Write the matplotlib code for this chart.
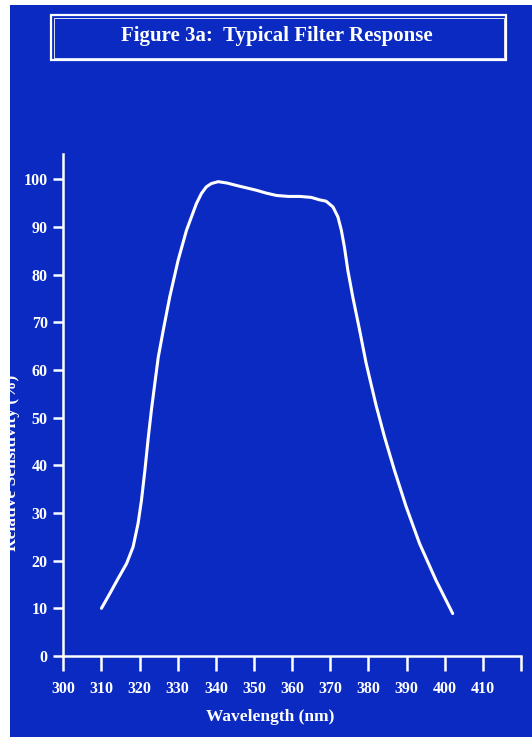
import matplotlib
matplotlib.use("Agg")
import matplotlib.pyplot as plt
from matplotlib.patches import Rectangle

# Filter response curve: wavelength (nm) and relative sensitivity (%)
wavelength = [310.0, 312.2, 314.4, 316.6, 318.3, 319.6, 320.5, 321.4, 322.3,
              323.1, 324.0, 324.9, 326.2, 327.9, 330.1, 332.3, 333.6, 334.9,
              336.2, 337.5, 338.8, 340.6, 343.0, 345.4, 348.0, 350.6, 353.2,
              355.9, 359.0, 362.0, 365.0, 367.1, 368.9, 370.7, 372.0, 372.9,
              373.7, 374.6, 375.9, 376.8, 377.7, 379.4, 382.0, 384.2, 386.8,
              389.9, 393.4, 397.7, 402.1]
sensitivity = [10.0, 13.1, 16.3, 19.4, 22.9, 27.8, 32.7, 39.0, 46.0,
               51.6, 57.2, 62.7, 68.3, 75.3, 83.0, 89.3, 92.1, 94.9,
               97.0, 98.4, 99.1, 99.5, 99.2, 98.7, 98.2, 97.7, 97.1,
               96.6, 96.4, 96.4, 96.2, 95.7, 95.4, 94.2, 92.1, 89.3,
               85.8, 80.9, 75.3, 71.8, 68.3, 61.4, 52.6, 46.0, 39.0,
               31.3, 23.6, 15.9, 8.9]

x_ticks = [300, 310, 320, 330, 340, 350, 360, 370, 380, 390, 400, 410, 420]
x_tick_labels = ["300", "310", "320", "330", "340", "350", "360", "370",
                 "380", "390", "400", "410", ""]
y_ticks = [0, 10, 20, 30, 40, 50, 60, 70, 80, 90, 100]

title = "Figure 3a:  Typical Filter Response"
x_label = "Wavelength (nm)"
y_label = "Relative Sensitivity (%)"

BLUE = "#0a2ac2"
WHITE = "white"
W, H = 532, 737

plt.rcParams["font.family"] = ["Liberation Serif", "DejaVu Serif"]
plt.rcParams["font.weight"] = "bold"

fig = plt.figure(figsize=(W / 100, H / 100), dpi=100)
fig.patch.set_facecolor(BLUE)

ax = fig.add_axes([63.3 / W, 1 - 656 / H, (521 - 63.3) / W, (656 - 154) / H])
ax.set_facecolor(BLUE)
ax.plot(wavelength, sensitivity, color=WHITE, lw=2.2,
        solid_capstyle="round", solid_joinstyle="round")

ax.set_xlim(300, 420)
ax.set_ylim(0, 105.3)
for side in ("top", "right"):
    ax.spines[side].set_visible(False)
for side in ("left", "bottom"):
    ax.spines[side].set_color(WHITE)
    ax.spines[side].set_linewidth(1.8)

ax.set_xticks(x_ticks)
ax.set_xticklabels(x_tick_labels)
ax.set_yticks(y_ticks)
ax.tick_params(axis="x", direction="out", length=10.8, width=1.8,
               color=WHITE, labelcolor=WHITE, labelsize=11.5, pad=7)
ax.tick_params(axis="y", direction="out", length=7.2, width=1.8,
               color=WHITE, labelcolor=WHITE, labelsize=11.5, pad=4)
for lab in ax.get_xticklabels() + ax.get_yticklabels():
    lab.set_fontweight("bold")

fig.text(270 / W, 1 - 717 / H, x_label, color=WHITE, fontsize=12.5,
         fontweight="bold", ha="center", va="center")
fig.text(20 / W, 1 - 463 / H, y_label, color=WHITE, fontsize=12.5,
         fontweight="bold", ha="right", va="center", rotation=90, zorder=1)

# Title panel with a double white outline
fig.text(277 / W, 1 - 36 / H, title, color=WHITE, fontsize=15,
         fontweight="bold", ha="center", va="center")
for inset, lw in ((0, 1.6), (2.5, 0.6)):
    x0, y0, x1, y1 = 51 + inset, 15 + inset, 506 - inset, 60 - inset
    fig.patches.append(Rectangle((x0 / W, 1 - y1 / H), (x1 - x0) / W,
                                 (y1 - y0) / H, transform=fig.transFigure,
                                 fill=False, edgecolor=WHITE, lw=lw,
                                 zorder=5))

# White margin along the left and top edges
fig.patches.append(Rectangle((0, 0), 10 / W, 1, transform=fig.transFigure,
                             facecolor=WHITE, edgecolor="none", zorder=10))
fig.patches.append(Rectangle((0, 1 - 5 / H), 1, 5 / H,
                             transform=fig.transFigure,
                             facecolor=WHITE, edgecolor="none", zorder=10))

fig.savefig("out.png", dpi=100, facecolor=fig.get_facecolor())
